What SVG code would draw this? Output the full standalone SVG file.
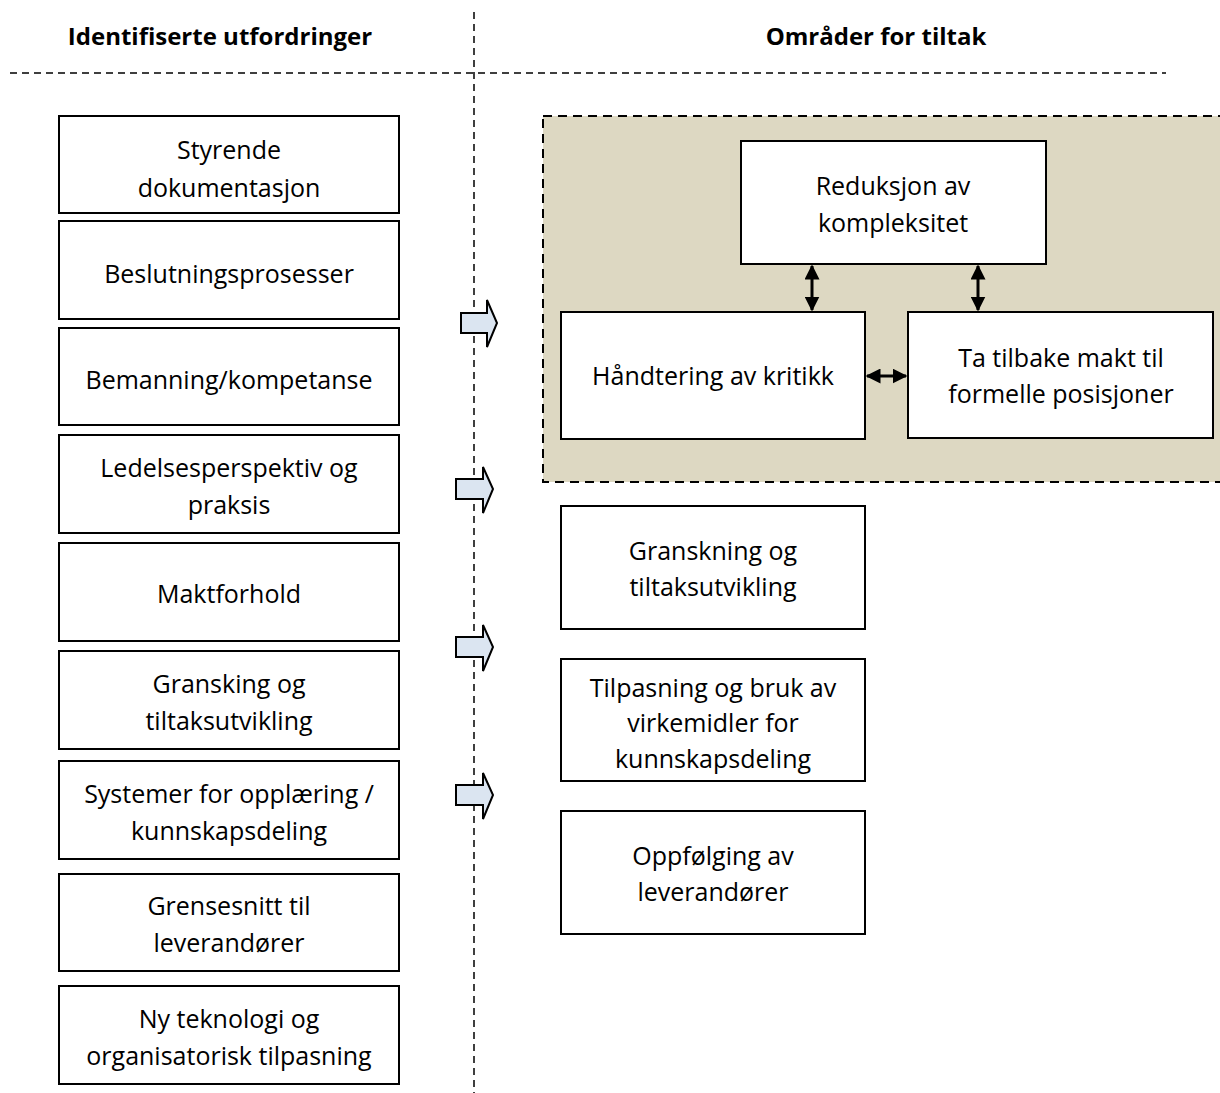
<svg xmlns="http://www.w3.org/2000/svg" width="1220" height="1093" viewBox="0 0 1220 1093">
  <defs>
    <style>
      .box { fill: #ffffff; stroke: #000000; stroke-width: 2; }
      .lbl { font-family: "Open Sans", "Liberation Sans", sans-serif; font-size: 25px; fill: #000000; text-anchor: middle; }
      .hdr { font-family: "Open Sans", "Liberation Sans", sans-serif; font-size: 24px; font-weight: bold; fill: #000000; text-anchor: middle; }
      .divider { stroke: #000000; stroke-width: 1.5; stroke-dasharray: 7 5; fill: none; }
      .blk { fill: #dbe5f1; stroke: #000000; stroke-width: 2; stroke-linejoin: miter; }
      .dbl { stroke: #000000; stroke-width: 3; fill: none; marker-start: url(#head); marker-end: url(#head); }
    </style>
    <marker id="head" viewBox="0 0 10 10" refX="9" refY="5" markerWidth="5" markerHeight="5" orient="auto-start-reverse" markerUnits="strokeWidth">
      <path d="M0,0 L10,5 L0,10 Z" fill="#000000"/>
    </marker>
  </defs>

  <!-- column headers and dividers -->
  <g id="headers">
    <text class="hdr" x="220" y="45">Identifiserte utfordringer</text>
    <text class="hdr" x="876" y="45">Områder for tiltak</text>
    <line class="divider" x1="10" y1="73" x2="1166" y2="73"/>
    <line class="divider" x1="474" y1="12" x2="474" y2="1093"/>
  </g>

  <!-- shaded area holding the three linked measures -->
  <g id="focus-area">
    <rect x="543" y="116" width="690" height="366" fill="#ddd8c2" stroke="#000000" stroke-width="2" stroke-dasharray="9 6"/>
  </g>

  <!-- challenges (left column) -->
  <g id="c1"><rect class="box" x="59" y="116" width="340" height="97"/><text class="lbl" x="229" y="159">Styrende</text><text class="lbl" x="229" y="197">dokumentasjon</text></g>
  <g id="c2"><rect class="box" x="59" y="221" width="340" height="98"/><text class="lbl" x="229" y="283">Beslutningsprosesser</text></g>
  <g id="c3"><rect class="box" x="59" y="328" width="340" height="97"/><text class="lbl" x="229" y="389">Bemanning/kompetanse</text></g>
  <g id="c4"><rect class="box" x="59" y="435" width="340" height="98"/><text class="lbl" x="229" y="477">Ledelsesperspektiv og</text><text class="lbl" x="229" y="514">praksis</text></g>
  <g id="c5"><rect class="box" x="59" y="543" width="340" height="98"/><text class="lbl" x="229" y="603">Maktforhold</text></g>
  <g id="c6"><rect class="box" x="59" y="651" width="340" height="98"/><text class="lbl" x="229" y="693">Gransking og</text><text class="lbl" x="229" y="730">tiltaksutvikling</text></g>
  <g id="c7"><rect class="box" x="59" y="761" width="340" height="98"/><text class="lbl" x="229" y="803">Systemer for opplæring /</text><text class="lbl" x="229" y="840">kunnskapsdeling</text></g>
  <g id="c8"><rect class="box" x="59" y="874" width="340" height="97"/><text class="lbl" x="229" y="915">Grensesnitt til</text><text class="lbl" x="229" y="952">leverandører</text></g>
  <g id="c9"><rect class="box" x="59" y="986" width="340" height="98"/><text class="lbl" x="229" y="1028">Ny teknologi og</text><text class="lbl" x="229" y="1065">organisatorisk tilpasning</text></g>

  <!-- measures (right column) -->
  <g id="m1"><rect class="box" x="741" y="141" width="305" height="123"/><text class="lbl" x="893" y="195">Reduksjon av</text><text class="lbl" x="893" y="232">kompleksitet</text></g>
  <g id="m2"><rect class="box" x="561" y="312" width="304" height="127"/><text class="lbl" x="713" y="385">Håndtering av kritikk</text></g>
  <g id="m3"><rect class="box" x="908" y="312" width="305" height="126"/><text class="lbl" x="1061" y="367">Ta tilbake makt til</text><text class="lbl" x="1061" y="403">formelle posisjoner</text></g>
  <g id="m4"><rect class="box" x="561" y="506" width="304" height="123"/><text class="lbl" x="713" y="560">Granskning og</text><text class="lbl" x="713" y="596">tiltaksutvikling</text></g>
  <g id="m5"><rect class="box" x="561" y="659" width="304" height="122"/><text class="lbl" x="713" y="697">Tilpasning og bruk av</text><text class="lbl" x="713" y="732">virkemidler for</text><text class="lbl" x="713" y="768">kunnskapsdeling</text></g>
  <g id="m6"><rect class="box" x="561" y="811" width="304" height="123"/><text class="lbl" x="713" y="865">Oppfølging av</text><text class="lbl" x="713" y="901">leverandører</text></g>

  <!-- connectors -->
  <g id="connectors">
    <line class="dbl" x1="812" y1="266" x2="812" y2="310"/>
    <line class="dbl" x1="978" y1="266" x2="978" y2="310"/>
    <line class="dbl" x1="867" y1="376" x2="906" y2="376"/>
    <path class="blk" d="M461,313 L487,313 L487,300 L497,323 L487,347 L487,333 L461,333 Z"/>
    <path class="blk" d="M456,479 L483,479 L483,467 L493,489 L483,513 L483,499 L456,499 Z"/>
    <path class="blk" d="M456,637 L483,637 L483,625 L493,647 L483,671 L483,657 L456,657 Z"/>
    <path class="blk" d="M456,785 L483,785 L483,773 L493,795 L483,819 L483,805 L456,805 Z"/>
  </g>
</svg>
